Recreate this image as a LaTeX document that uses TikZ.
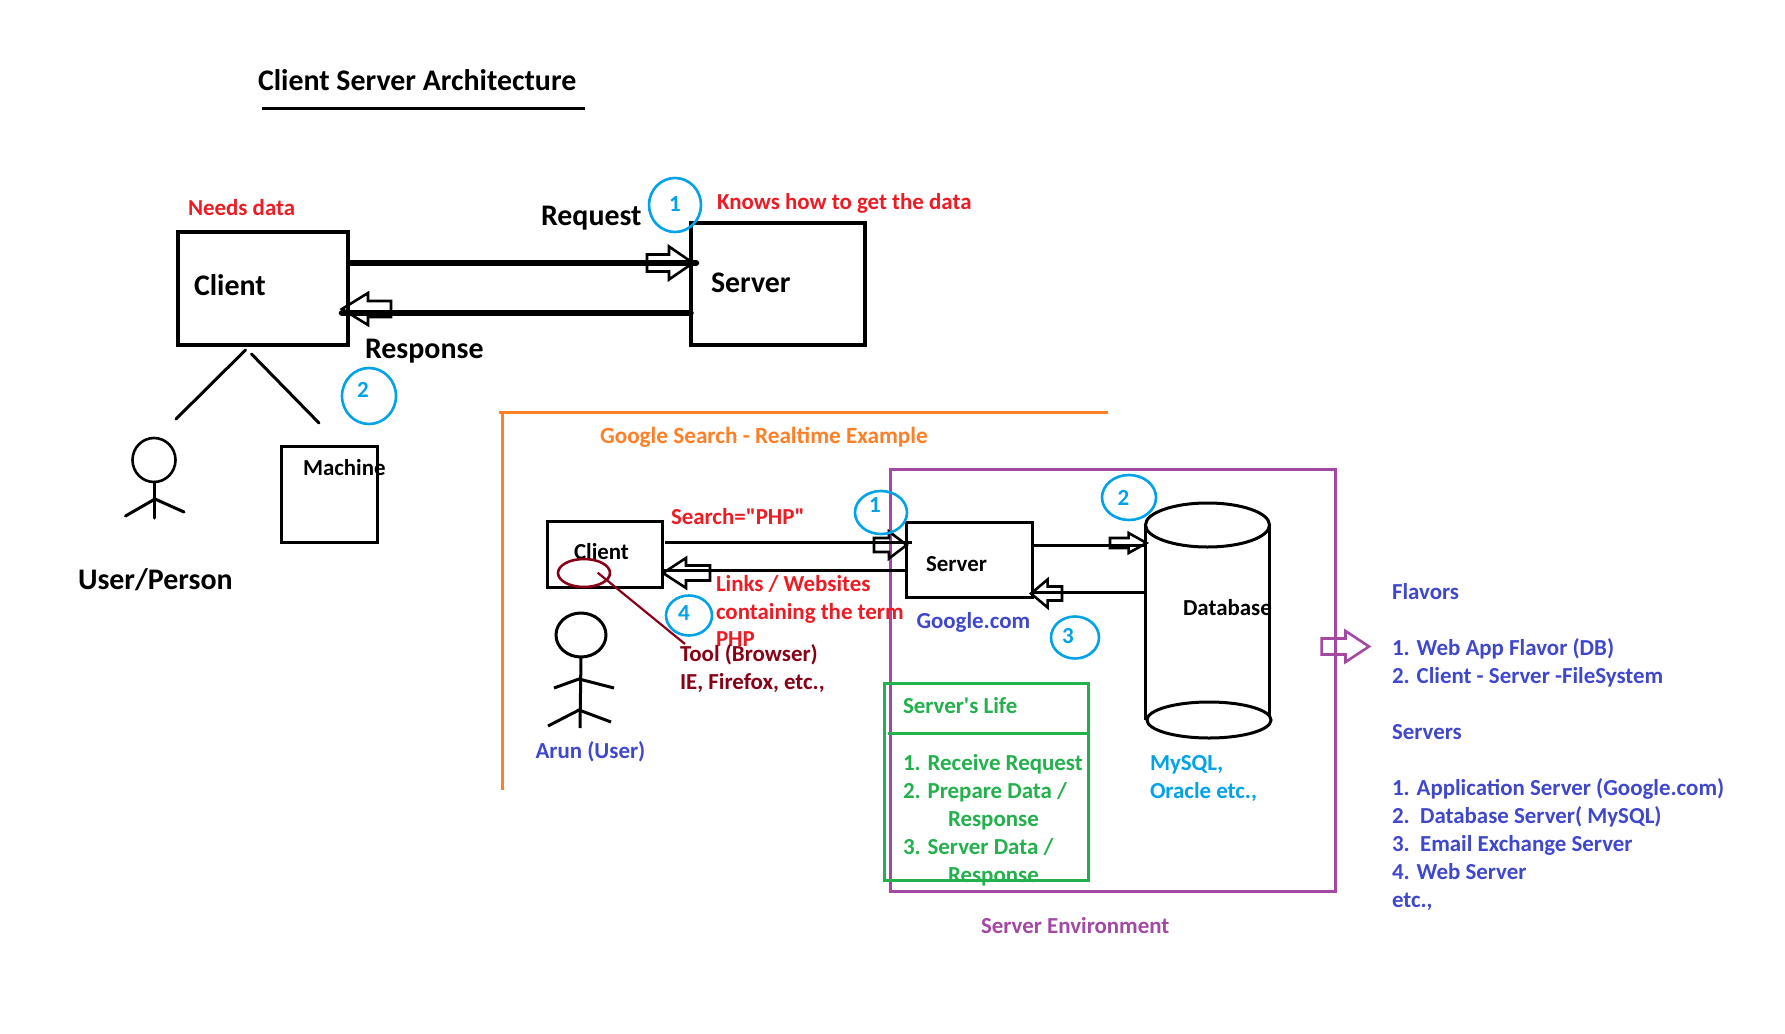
\documentclass[tikz,border=0pt]{standalone}
\usepackage{fontspec}
\setmainfont{Carlito}[Ligatures=TeXOff]
\usetikzlibrary{shapes.geometric}
\definecolor{cred}{HTML}{ED1C24}
\definecolor{ccyan}{HTML}{00A2E8}
\definecolor{corange}{HTML}{FF7F27}
\definecolor{cindigo}{HTML}{3F48CC}
\definecolor{cpurple}{HTML}{A349A4}
\definecolor{cgreen}{HTML}{22B14C}
\definecolor{cmaroon}{HTML}{880015}
\newcommand{\blockarrow}[7][black]{%
  \draw[color=#1,line width=2.6pt,line join=miter] (#2,#5-#6) -- (#3,#5-#6) -- (#3,#5-#7) -- (#4,#5) -- (#3,#5+#7) -- (#3,#5+#6) -- (#2,#5+#6) -- cycle;}
\tikzset{
  x=1pt,y=-1pt,
  txt/.style={anchor=west,inner sep=0pt,outer sep=0pt,text height=19pt,text depth=3pt,font=\bfseries\fontsize{22.9}{27}\selectfont},
  big/.style={txt,text height=24pt,text depth=4pt,font=\bfseries\fontsize{29.9}{34}\selectfont},
  boxa/.style={draw=black,line width=4pt,inner sep=0pt,outer sep=0pt},
  boxb/.style={draw=black,line width=3pt,inner sep=0pt,outer sep=0pt},
  thick line/.style={draw=black,line width=6.5pt,line cap=round},
  mid line/.style={draw=black,line width=3pt},
  fig line/.style={draw=black,line width=3pt,line cap=round},
  num/.style={draw=ccyan,ellipse,line width=2.6pt,inner sep=0pt,outer sep=0pt},
  numtxt/.style={inner sep=0pt,text=ccyan,font=\bfseries\fontsize{23}{27}\selectfont},
}
\begin{document}
\begin{tikzpicture}
\useasboundingbox[fill=white] (0,0) rectangle (1785,1033);
% Title
\node[big] (title) at (258,80) {Client Server Architecture};
\coordinate (ulA) at (262,108.5);
\coordinate (ulB) at (585,108.5);
\draw[black,line width=2.6pt] (ulA) -- (ulB);
% Top boxes
\node[boxa,minimum width=170pt,minimum height=113pt] (client1) at (263,288) {};
\node[boxa,minimum width=174pt,minimum height=122pt] (server1) at (777.5,284) {};
\node[big] (clienttxt1) at (194,285) {Client};
\node[big] (servertxt1) at (711,282) {Server};
\draw[thick line,shorten <=3pt] (client1.east |- 0,263) -- (696,263);
\draw[thick line] (server1.west |- 0,313) -- (342,313);
\blockarrow{647}{669}{693}{263}{8.5}{16.5}
\blockarrow{391}{368}{342}{309}{8}{16}
\node[big] (req) at (541,215) {Request};
\node[big] (resp) at (365,348) {Response};
\node[txt,text=cred] (needs) at (188,207) {Needs data};
\node[txt,text=cred] (knows) at (717,201) {Knows how to get the data};
\node[num,minimum width=52pt,minimum height=54pt] (n1a) at (675,205) {};
\node[numtxt] (n1at) at (675,204) {1};
\node[num,minimum width=54pt,minimum height=56pt] (n2a) at (369,396) {};
\node[numtxt] (n2at) at (363,390) {2};
% tree lines
\coordinate (treeA) at (245.5,350);
\coordinate (treeB) at (251.5,354);
\coordinate (treeL) at (176,419);
\coordinate (treeR) at (319,423);
\draw[fig line] (treeA) -- (treeL);
\draw[fig line] (treeB) -- (treeR);
% user 1
\node[draw=black,line width=2.6pt,ellipse,minimum width=43pt,minimum height=44pt,inner sep=0pt,outer sep=0pt] (head1) at (154,460) {};
\coordinate (foot1) at (154,518);
\coordinate (hip1) at (155,499);
\draw[fig line] (head1.south) -- (foot1);
\draw[fig line] (125.5,516) -- (hip1) -- (184,512);
% machine
\node[boxb,minimum width=96pt,minimum height=96pt] (machine) at (329.5,494.5) {};
\node[txt] (machinetxt) at (303,467) {Machine};
\node[big] (userp) at (78,579) {User/Person};
% orange bracket
\coordinate (orA) at (1108,412);
\coordinate (orB) at (499,412);
\coordinate (orC) at (502,412);
\coordinate (orD) at (502,790);
\draw[corange,line width=3pt] (orA) -- (orB);
\draw[corange,line width=3pt] (orC) -- (orD);
\node[txt,text=corange,font=\bfseries\fontsize{23.2}{27}\selectfont] (google) at (600,435) {Google Search - Realtime Example};
% purple environment
\node[draw=cpurple,line width=3pt,minimum width=445.5pt,minimum height=422pt,inner sep=0pt,outer sep=0pt] (env) at (1112.75,680) {};
\node[txt,text=cpurple] (envtxt) at (981,925.5) {Server Environment};
% client 2
\node[boxb,minimum width=115pt,minimum height=66pt] (client2) at (604.5,554.5) {};
\node[txt] (client2txt) at (574,551) {Client};
\node[boxb,minimum width=126pt,minimum height=75pt] (server2) at (969,559.5) {};
\node[txt] (server2txt) at (926,563) {Server};
\draw[mid line] (665,542.3) -- (911.7,542.3);
\draw[mid line] (server2.west |- 0,570) -- (client2.east |- 0,570);
\blockarrow{874}{889}{906.7}{545}{7}{13.5}
\blockarrow{710}{686}{663}{573}{7.5}{15}
\node[txt,text=cred] (search) at (671,516) {Search="PHP"};
\node[txt,text=cred] (links1) at (716,583) {Links / Websites};
\node[txt,text=cred] (links2) at (716,611) {containing the term};
\node[txt,text=cred] (links3) at (716,638) {PHP};
\node[num,minimum width=52pt,minimum height=43pt] (n1b) at (881,512.5) {};
\node[numtxt] (n1bt) at (875,505) {1};
\node[num,minimum width=46pt,minimum height=40pt] (n4b) at (689,615.5) {};
\node[numtxt] (n4bt) at (684,612.7) {4};
% tool
\node[draw=cmaroon,line width=2.6pt,ellipse,minimum width=52pt,minimum height=28pt,inner sep=0pt,outer sep=0pt] (toolel) at (584,573) {};
\coordinate (toolstart) at (597.7,572.7);
\coordinate (toolend) at (685,644);
\draw[cmaroon,line width=2.2pt] (toolstart) -- (toolend);
\node[txt,text=cmaroon] (tool1) at (680,653) {Tool (Browser)};
\node[txt,text=cmaroon] (tool2) at (680,681) {IE, Firefox, etc.,};
% user 2
\node[draw=black,line width=3pt,ellipse,minimum width=50pt,minimum height=44pt,inner sep=0pt,outer sep=0pt] (head2) at (581,635) {};
\coordinate (foot2) at (580,728);
\coordinate (arm2) at (579,679);
\coordinate (leg2) at (579,710);
\draw[mid line] (head2.south) -- (foot2);
\draw[mid line] (554,688) -- (arm2) -- (614,688);
\draw[mid line] (548,726) -- (leg2) -- (611,722);
\node[txt,text=cindigo] (arun) at (535.5,750) {Arun (User)};
\node[txt,text=cindigo] (gcom) at (916.5,620) {Google.com};
% database
\coordinate (dbL) at (1145.5,0);
\coordinate (dbR) at (1269.5,0);
\draw[black,line width=3pt] (1207.5,525) ellipse [x radius=62,y radius=22];
\draw[black,line width=3pt] (dbL |- 0,525) -- (dbL |- 0,720);
\draw[black,line width=3pt] (dbR |- 0,525) -- (dbR |- 0,715);
\draw[black,line width=3pt] (1209,720) ellipse [x radius=62,y radius=18];
\node[txt] (dbtxt) at (1183,607) {Database};
\draw[mid line] (server2.east |- 0,545) -- (dbL |- 0,545);
\draw[mid line] (dbL |- 0,592.7) -- (server2.east |- 0,592.7);
\blockarrow{1110}{1128.6}{1146.5}{543}{5}{10}
\blockarrow{1062}{1047.6}{1031}{593.5}{7}{14}
\node[num,minimum width=54pt,minimum height=45pt] (n2b) at (1129,497.5) {};
\node[numtxt] (n2bt) at (1123.5,498) {2};
\node[num,minimum width=48pt,minimum height=42pt] (n3b) at (1075,637.5) {};
\node[numtxt] (n3bt) at (1068,636) {3};
\node[txt,text=ccyan] (mysql) at (1150,762) {MySQL,};
\node[txt,text=ccyan] (oracle) at (1150,790) {Oracle etc.,};
% green box
\node[draw=cgreen,line width=3pt,minimum width=204pt,minimum height=197pt,inner sep=0pt,outer sep=0pt] (life) at (986.5,782) {};
\coordinate (divA) at (888,733);
\draw[cgreen,line width=3pt] (divA) -- (life.east |- divA);
\node[txt,text=cgreen] (lt) at (903,705) {Server's Life};
\node[txt,text=cgreen] (l1) at (903,762) {1. Receive Request};
\node[txt,text=cgreen] (l2) at (903,790) {2. Prepare Data /};
\node[txt,text=cgreen] (l3) at (948,818) {Response};
\node[txt,text=cgreen] (l4) at (903,846) {3. Server Data /};
\node[txt,text=cgreen] (l5) at (948,874) {Response};
% right arrow
\blockarrow[cpurple]{1321.7}{1345.5}{1369}{646.5}{8}{15.5}
% right text
\node[txt,text=cindigo] (f0) at (1392,591) {Flavors};
\node[txt,text=cindigo] (f1) at (1392,647) {1. Web App Flavor (DB)};
\node[txt,text=cindigo] (f2) at (1392,675) {2. Client - Server -FileSystem};
\node[txt,text=cindigo] (f3) at (1392,731) {Servers};
\node[txt,text=cindigo] (f4) at (1392,787) {1. Application Server (Google.com)};
\node[txt,text=cindigo] (f5) at (1392,815) {2.\ \ Database Server( MySQL)};
\node[txt,text=cindigo] (f6) at (1392,843) {3.\ \ Email Exchange Server};
\node[txt,text=cindigo] (f7) at (1392,871) {4. Web Server};
\node[txt,text=cindigo] (f8) at (1392,899) {etc.,};
\end{tikzpicture}
\end{document}
